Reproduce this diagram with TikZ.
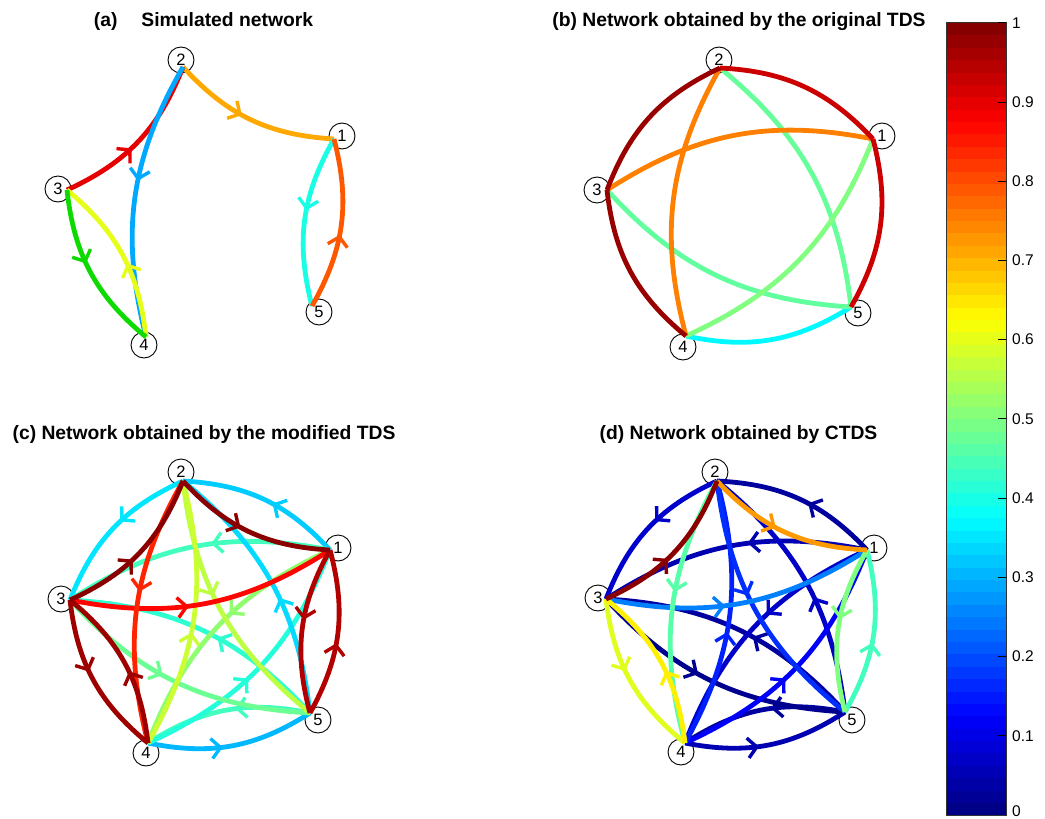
\documentclass[tikz,border=0pt]{standalone}
\usepackage{fontspec}
\setmainfont{Liberation Sans}
\usetikzlibrary{decorations.markings}
\definecolor{simgreen}{rgb}{0.05,0.86,0.0}
\tikzset{
  % jet colour map: value in [0,1] -> colour
  jetv/.code={%
    \pgfmathsetmacro\jr{max(0,min(1,1.5-abs(4*(#1)-3)))}%
    \pgfmathsetmacro\jg{max(0,min(1,1.5-abs(4*(#1)-2)))}%
    \pgfmathsetmacro\jb{max(0,min(1,1.5-abs(4*(#1)-1)))}%
    \definecolor{jetcol}{rgb}{\jr,\jg,\jb}%
    \pgfkeysalso{color=jetcol}},
  link/.style={line width=4.8, bend right=22},
  arc/.style={link, postaction={decorate},
    decoration={markings, mark=at position 0.43 with
      {\draw[line width=3.4] (-9,10) -- (0,0) -- (-9,-10);}}},
  vlabel/.style={circle, draw, line width=0.9, minimum size=26, inner sep=0,
    font=\fontsize{16.5}{16.5}\selectfont},
  ptitle/.style={anchor=base, inner sep=0, font=\fontsize{19.3}{22}\selectfont\bfseries},
  cbtext/.style={anchor=west, inner sep=0, font=\fontsize{15.5}{18}\selectfont},
}
\begin{document}
\begin{tikzpicture}[x=1pt, y=-1pt]
\useasboundingbox (0,0) rectangle (1045,819);

% ---------- titles ----------
\node[ptitle] (ta) at (203.5,26) {(a)\hspace{24pt}Simulated network};
\node[ptitle] (tb) at (739,26) {(b) Network obtained by the original TDS};
\node[ptitle] (tc) at (204,439) {(c) Network obtained by the modified TDS};
\node[ptitle] (td) at (738.5,439) {(d) Network obtained by CTDS};

% ---------- vertex positions ----------
\coordinate (a1) at (334,139); \coordinate (a2) at (183,67);
\coordinate (a3) at (67,190);  \coordinate (a4) at (146,337);
\coordinate (a5) at (312,306);
\coordinate (b1) at (873,139); \coordinate (b2) at (720,68);
\coordinate (b3) at (607,190); \coordinate (b4) at (686,336);
\coordinate (b5) at (851,307);
\coordinate (c1) at (330,550); \coordinate (c2) at (183,481);
\coordinate (c3) at (70,600);  \coordinate (c4) at (148,743);
\coordinate (c5) at (310,713);
\coordinate (d1) at (867,550); \coordinate (d2) at (717,481);
\coordinate (d3) at (606,599); \coordinate (d4) at (685,743);
\coordinate (d5) at (845,712);

% ---------- vertex labels ----------
\node[vlabel] (la1) at (342,136) {1}; \node[vlabel] (la2) at (181,60) {2};
\node[vlabel] (la3) at (58,189) {3};  \node[vlabel] (la4) at (144,345) {4};
\node[vlabel] (la5) at (319,312) {5};
\node[vlabel] (lb1) at (882,136) {1}; \node[vlabel] (lb2) at (719,60) {2};
\node[vlabel] (lb3) at (597,190) {3}; \node[vlabel] (lb4) at (683,347) {4};
\node[vlabel] (lb5) at (858,313) {5};
\node[vlabel] (lc1) at (338,548) {1}; \node[vlabel] (lc2) at (181,472) {2};
\node[vlabel] (lc3) at (61,599) {3};  \node[vlabel] (lc4) at (146,753) {4};
\node[vlabel] (lc5) at (318,720) {5};
\node[vlabel] (ld1) at (874,548) {1}; \node[vlabel] (ld2) at (715,472) {2};
\node[vlabel] (ld3) at (598,598) {3}; \node[vlabel] (ld4) at (681,752) {4};
\node[vlabel] (ld5) at (852,720) {5};

% ---------- (a) simulated network ----------
\foreach \s/\t/\v in {2/1/0.71, 3/2/0.9, 2/4/0.29, 4/3/0.6, 1/5/0.4, 5/1/0.79}
  \draw[arc, jetv=\v] (a\s) to (a\t);
\draw[arc, color=simgreen] (a3) to (a4);

% ---------- (b) original TDS (undirected) ----------
\foreach \s/\t/\v in {4/5/0.37, 3/5/0.47, 5/2/0.475, 4/1/0.5, 1/3/0.75, 2/4/0.75,
                      1/2/0.925, 5/1/0.925, 2/3/0.975, 3/4/0.975}
  \draw[link, jetv=\v] (b\s) to (b\t);

% ---------- (c) modified TDS ----------
\foreach \s/\t/\v in {1/2/0.325, 2/3/0.35, 4/5/0.305, 5/4/0.4375,
                      1/3/0.44, 5/3/0.42, 4/1/0.41, 5/2/0.34,
                      3/5/0.48, 1/4/0.515, 2/5/0.56, 4/2/0.575,
                      3/1/0.87, 2/4/0.84,
                      5/1/0.95, 1/5/0.95, 3/4/0.97, 4/3/0.97,
                      2/1/0.99, 3/2/0.99}
  \draw[arc, jetv=\v] (c\s) to (c\t);

% ---------- (d) CTDS ----------
\foreach \s/\t/\v in {1/2/0.03, 2/3/0.075, 4/5/0.05, 5/4/0.03,
                      1/3/0.05, 3/5/0.015, 5/3/0.03, 1/4/0.07, 5/2/0.07,
                      4/1/0.12, 4/2/0.156, 2/5/0.17, 3/1/0.25,
                      2/4/0.46, 5/1/0.44, 1/5/0.5,
                      3/4/0.595, 4/3/0.64, 2/1/0.725, 3/2/0.99}
  \draw[arc, jetv=\v] (d\s) to (d\t);

% ---------- colour bar (64 bands) ----------
\foreach \i in {0,...,63} {
  \pgfmathsetmacro\v{(\i+0.5)/64}
  \pgfmathsetmacro\ya{815-\i*12.3797+0.3}
  \pgfmathsetmacro\yb{815-(\i+1)*12.3797}
  \fill[jetv=\v] (946,\ya) rectangle (1006,\yb);
}
\node[draw=black!80, line width=0.8, inner sep=0, minimum width=60,
      minimum height=792.3] (cbar) at (976,418.85) {};
\foreach \k/\s in {1/0.1, 2/0.2, 3/0.3, 4/0.4, 5/0.5, 6/0.6, 7/0.7, 8/0.8, 9/0.9, 10/1} {
  \pgfmathsetmacro\yt{815-\k*79.23}
  \draw[line width=0.8] (998,\yt) -- (1006,\yt);
  \node[cbtext] (cb\k) at (1012,\yt) {\s};
}
\node[cbtext] (cb0) at (1012,811.5) {0};
\end{tikzpicture}
\end{document}
